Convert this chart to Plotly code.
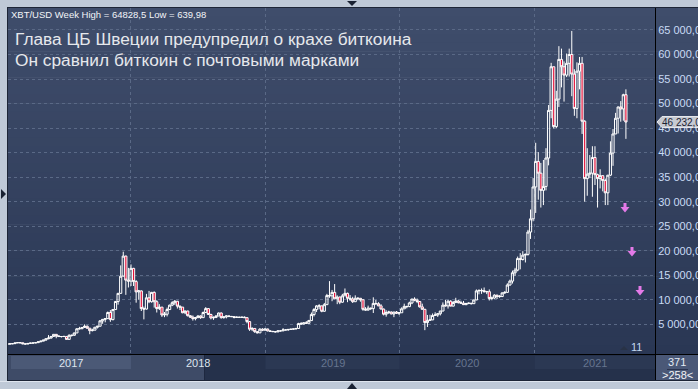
import plotly.graph_objects as go
import pandas as pd

# ---------------- data (weekly XBT/USD candles) ----------------
first_week = "2017-01-23"
week_open = [
    # 2017
    920, 915, 1010, 1000, 1050, 1190, 1270, 1230, 1020, 970, 1090, 1180, 1180, 1250,
    1420, 1560, 1770, 2050, 2190, 2520, 2950, 2600, 2500, 2500, 2520, 1920, 2750, 2750,
    3230, 4080, 4100, 4350, 4600, 4200, 3700, 3800, 4400, 4600, 5700, 6000, 6150, 7400,
    5950, 8000, 9650, 11300, 14800, 18900, 14000,
    # 2018
    13800, 16400, 13700, 11600, 11800, 8200, 8100, 10400, 9600, 11500, 9600, 8200, 8500,
    6900, 7050, 8000, 8900, 9400, 9700, 8700, 8500, 7350, 7700, 6750, 6450, 6150, 6350,
    6700, 6350, 7400, 8200, 7000, 6300, 6400, 6700, 7300, 6350, 6500, 6700, 6600, 6550,
    6400, 6450, 6400, 6450, 6350, 5550, 4000, 4150, 3500, 3250, 4000, 3800,
    # 2019
    4050, 3650, 3550, 3500, 3450, 3650, 3650, 3850, 3850, 3950, 4000, 4050, 4150, 5150,
    5050, 5300, 5200, 5750, 6980, 8000, 8750, 8750, 7650, 9000, 10850, 10800, 11500,
    10200, 10550, 9500, 10800, 11300, 10300, 10150, 9600, 10300, 10300, 10000, 8050,
    7900, 8300, 8200, 9250, 9200, 8750, 8100, 7050, 7400, 7500, 7100, 7500, 7250,
    # 2020
    7350, 8150, 8650, 8600, 9350, 10150, 9900, 9650, 8550, 8050, 5350, 5800, 5900, 6800,
    6900, 7150, 7700, 8900, 8750, 9700, 8700, 9450, 9750, 9400, 9300, 9000, 9250, 9300,
    9200, 9950, 11800, 11900, 11850, 11650, 11650, 10250, 10350, 10950, 10700, 10650,
    11400, 11500, 13000, 13800, 15500, 16050, 18400, 18200, 19100, 19250, 23800, 26500,
    # 2021
    33000, 38200, 35800, 32300, 33100, 38900, 48600, 57500, 45300, 50900, 59000, 57500,
    55800, 58200, 60000, 56000, 49000, 56600, 58200, 46400, 34700, 35600, 35800, 39000,
    35500, 34700, 35300, 34300, 31800, 35400, 39900, 43800, 47000, 49300, 48900, 51800,
]
week_high = [
    # 2017
    930, 1030, 1060, 1060, 1200, 1290, 1330, 1260, 1070, 1100, 1200, 1210, 1260, 1440,
    1640, 1820, 2150, 2800, 2600, 2990, 2980, 2770, 2600, 2650, 2530, 2950, 2850, 3300,
    4200, 4480, 4400, 4980, 4750, 4250, 4100, 4400, 4620, 5850, 6000, 6200, 7600, 7900,
    8000, 9750, 11400, 17000, 19800, 19000, 16500,
    # 2018
    17200, 16500, 14000, 12000, 11900, 8600, 11200, 11800, 11600, 11700, 9900, 9100, 8500,
    7500, 8400, 9000, 9700, 9950, 9750, 8800, 8500, 7800, 7750, 6850, 6800, 6500, 6800,
    6800, 7600, 8500, 8300, 7150, 6600, 6800, 7400, 7400, 6600, 6800, 6800, 6700, 6650,
    6600, 6550, 6500, 6600, 6400, 5600, 4400, 4200, 3600, 4200, 4200, 4100,
    # 2019
    4100, 3800, 3650, 3550, 3750, 3700, 4200, 3950, 3950, 4000, 4100, 4150, 5300, 5450,
    5400, 5650, 5900, 7400, 8300, 8900, 9100, 8800, 9350, 11200, 13800, 12000, 13200,
    10900, 10650, 11200, 12300, 11450, 10950, 10600, 10900, 10450, 10350, 10050, 8500,
    8800, 8400, 10500, 9950, 9500, 9100, 8200, 7850, 7750, 7600, 7500, 7700, 7500,
    # 2020
    8450, 9200, 8750, 9600, 10150, 10500, 10250, 9700, 9200, 8150, 6900, 6950, 7200, 7450,
    7300, 7750, 9450, 10000, 9950, 9900, 9750, 10400, 9950, 9800, 9750, 9350, 9450, 9350,
    10000, 12100, 12100, 12300, 12500, 11800, 12100, 10650, 11100, 10950, 10950, 11500,
    11750, 13350, 14100, 15950, 16500, 18800, 19500, 19900, 19400, 24250, 28400, 34800,
    # 2021
    42000, 40100, 37900, 38500, 40900, 49700, 58300, 57500, 52600, 61700, 61200, 58600,
    60200, 61200, 64800, 57000, 58400, 59500, 59500, 46600, 40900, 39500, 41300, 41300,
    35700, 36600, 35300, 34700, 35400, 42300, 44800, 48100, 49400, 50500, 52000, 52900,
]
week_low = [
    # 2017
    880, 910, 940, 990, 1040, 1180, 1100, 950, 890, 940, 1070, 1150, 1170, 1240,
    1410, 1550, 1690, 1950, 2100, 2500, 2150, 2480, 2300, 2450, 1900, 1900, 2480, 2650,
    3230, 3950, 3990, 4300, 4100, 2970, 3550, 3800, 4150, 4600, 5100, 5400, 6100, 5500,
    5800, 8000, 9000, 11300, 14800, 11000, 12500,
    # 2018
    12800, 12800, 9400, 10000, 7700, 6000, 8000, 9300, 9400, 8400, 7400, 7900, 6500,
    6450, 6600, 7900, 8700, 8950, 8200, 7900, 7250, 7050, 6600, 6280, 5750, 5800, 6300,
    6100, 6300, 7300, 6900, 6000, 5900, 6250, 6650, 6150, 6150, 6200, 6450, 6500, 6200,
    6350, 6350, 6300, 6300, 5200, 3650, 3600, 3250, 3150, 3250, 3600, 3700,
    # 2019
    3550, 3500, 3450, 3350, 3400, 3550, 3650, 3750, 3700, 3850, 3950, 3950, 4100, 4950,
    5000, 5150, 5150, 5700, 6600, 7500, 8050, 7450, 7550, 8950, 10400, 9700, 10200,
    9100, 9100, 9400, 10800, 9500, 9750, 9350, 9600, 9900, 9600, 7750, 7800,
    7800, 7900, 7300, 8950, 8700, 8050, 6800, 6550, 7100, 7050, 6450, 7100, 6900,
    # 2020
    7350, 8100, 8250, 8500, 9100, 9700, 9300, 8400, 8000, 3800, 4450, 5700, 5850, 6750,
    6500, 6800, 7650, 8650, 8200, 8800, 8650, 9300, 9250, 9200, 8950, 8900, 9100, 9050,
    9150, 9950, 11100, 11200, 11500, 11150, 9850, 9900, 10200, 10150, 10400, 10550,
    11200, 11450, 12900, 13300, 14850, 15800, 16200, 18000, 17600, 19000, 22400, 26000,
    # 2021
    27700, 30400, 28800, 29300, 32300, 37400, 47000, 44900, 45000, 49300, 53300, 50400,
    55400, 55500, 51500, 47500, 47000, 52900, 43800, 30000, 31200, 34800, 31000, 33400,
    28800, 32700, 32100, 29300, 29300, 35200, 37300, 43800, 43900, 46300, 46500, 42800,
]
week_close = [
    # 2017
    915, 1010, 1000, 1050, 1190, 1270, 1230, 1020, 970, 1090, 1180, 1180, 1250, 1420,
    1560, 1770, 2050, 2190, 2520, 2950, 2600, 2500, 2500, 2520, 1920, 2750, 2750, 3230,
    4080, 4100, 4350, 4600, 4200, 3700, 3800, 4400, 4600, 5700, 6000, 6150, 7400, 5950,
    8000, 9650, 11300, 14800, 18900, 14000, 13800,
    # 2018
    16400, 13700, 11600, 11800, 8200, 8100, 10400, 9600, 11500, 9600, 8200, 8500, 6900,
    7050, 8000, 8900, 9400, 9700, 8700, 8500, 7350, 7700, 6750, 6450, 6150, 6350, 6700,
    6350, 7400, 8200, 7000, 6300, 6400, 6700, 7300, 6350, 6500, 6700, 6600, 6550, 6400,
    6450, 6400, 6450, 6350, 5550, 4000, 4150, 3500, 3250, 4000, 3800, 4050,
    # 2019
    3650, 3550, 3500, 3450, 3650, 3650, 3850, 3850, 3950, 4000, 4050, 4150, 5150, 5050,
    5300, 5200, 5750, 6980, 8000, 8750, 8750, 7650, 9000, 10850, 10800, 11500, 10200,
    10550, 9500, 10800, 11300, 10300, 10150, 9600, 10300, 10300, 10000, 8050, 7900,
    8300, 8200, 9250, 9200, 8750, 8100, 7050, 7400, 7500, 7100, 7500, 7250, 7350,
    # 2020
    8150, 8650, 8600, 9350, 10150, 9900, 9650, 8550, 8050, 5350, 5800, 5900, 6800, 6900,
    7150, 7700, 8900, 8750, 9700, 8700, 9450, 9750, 9400, 9300, 9000, 9250, 9300, 9200,
    9950, 11800, 11900, 11850, 11650, 11650, 10250, 10350, 10950, 10700, 10650, 11400,
    11500, 13000, 13800, 15500, 16050, 18400, 18200, 19100, 19250, 23800, 26500, 33000,
    # 2021
    38200, 35800, 32300, 33100, 38900, 48600, 57500, 45300, 50900, 59000, 57500, 55800,
    58200, 60000, 56000, 49000, 56600, 58200, 46400, 34700, 35600, 35800, 39000, 35500,
    34700, 35300, 34300, 31800, 35400, 39900, 43800, 47000, 49300, 48900, 51800, 46232,
]
dates = pd.date_range(first_week, periods=len(week_close), freq="7D")

x_range = ["2017-02-01", "2021-11-24"]
y_range = [-1060, 69480]
year_labels = ["2017", "2018", "2019", "2020", "2021"]
year_starts = ["2018-01-01", "2019-01-01", "2020-01-01", "2021-01-01"]
price_ticks = [5000, 10000, 15000, 20000, 25000, 30000, 35000, 40000, 45000,
               50000, 55000, 60000, 65000]
price_tick_labels = ["5 000,00", "10 000,00", "15 000,00", "20 000,00", "25 000,00",
                     "30 000,00", "35 000,00", "40 000,00", "45 000,00", "50 000,00",
                     "55 000,00", "60 000,00", "65 000,00"]
header_text = "XBT/USD Week High = 64828,5 Low = 639,98"
title_lines = ["Глава ЦБ Швеции предупредил о крахе биткоина",
               "Он сравнил биткоин с почтовыми марками"]
bar_count_text = "371"
visible_count_text = ">258<"
signal_count_text = "11"

# ---------------- geometry helpers ----------------
W, H = 698, 389
ML, MR, MT, MB = 8, 43, 8, 35
PW, PH = W - ML - MR, H - MT - MB
FONT = "Liberation Sans, Arial, sans-serif"


def fx(px):
    return (px - ML) / PW


def fy(py):
    return (H - MB - py) / PH


t0, t1 = pd.Timestamp(x_range[0]), pd.Timestamp(x_range[1])


def date_px(d):
    return ML + (pd.Timestamp(d) - t0) / (t1 - t0) * PW


def val_py(v):
    return (H - MB) - (v - y_range[0]) / (y_range[1] - y_range[0]) * PH


def rect(x0, y0, x1, y1, color, layer="below", line=None):
    return dict(type="rect", xref="paper", yref="paper", x0=fx(x0), x1=fx(x1),
                y0=fy(y1), y1=fy(y0), fillcolor=color, layer=layer,
                line=dict(width=0) if line is None else line)


def hline(x0, x1, y, color, width=1, layer="above"):
    return dict(type="line", xref="paper", yref="paper", x0=fx(x0), x1=fx(x1),
                y0=fy(y), y1=fy(y), line=dict(color=color, width=width), layer=layer)


def vline(x, y0, y1, color, width=1, layer="above"):
    return dict(type="line", xref="paper", yref="paper", x0=fx(x), x1=fx(x),
                y0=fy(y0), y1=fy(y1), line=dict(color=color, width=width), layer=layer)


def poly(points, color, layer="above"):
    path = "M " + " L ".join(f"{fx(a)},{fy(b)}" for a, b in points) + " Z"
    return dict(type="path", xref="paper", yref="paper", path=path,
                fillcolor=color, line=dict(width=0), layer=layer)


def lerp_color(c0, c1, t):
    a = [int(c0[i:i + 2], 16) for i in (1, 3, 5)]
    b = [int(c1[i:i + 2], 16) for i in (1, 3, 5)]
    return "#" + "".join(f"{round(a[k] + (b[k] - a[k]) * t):02x}" for k in range(3))


shapes = []
# background gradient of the chart area (plot + right scale)
N = 40
top_c, bot_c = "#3f4d6b", "#2a3754"
for i in range(N):
    ya = MT + (H - MB - MT) * i / N
    yb = MT + (H - MB - MT) * (i + 1) / N + 0.6
    shapes.append(rect(ML, ya, W, yb, lerp_color(top_c, bot_c, i / (N - 1))))

# bottom band (time navigator)
band_top, band_mid, band_bot = 355, 369, 380
shapes.append(rect(ML, band_top, 655, band_bot, "#25314b"))
shapes.append(rect(ML, band_top, 204.5, band_bot, "#3e4b67"))
cells = [date_px(x_range[0]) + 3] + [date_px(d) for d in year_starts] + [655]
cell_colors = ["#4b5976", None, "#2b3853", "#27334d", "#2b3853"]
for i, c in enumerate(cell_colors):
    if c:
        shapes.append(rect(cells[i], band_top + 1, cells[i + 1], band_mid, c))
shapes.append(vline(204.5, band_top, band_bot, "#1e2840", 1, "below"))
# right bottom cell
shapes.append(rect(656, band_top, W, band_bot, "#4a5877"))
shapes.append(hline(667, 688, 369.5, "#2a3450", 1))

# frame
shapes.append(rect(0, 0, W, 7, "#bfc9d7", "above"))
shapes.append(rect(0, 0, 7, H, "#bfc9d7", "above"))
shapes.append(rect(0, 381, W, H, "#bfc9d7", "above"))
shapes.append(hline(7, W, 7.5, "#1d2536", 1))
shapes.append(vline(7.5, 7, 381, "#1d2536", 1))
shapes.append(hline(7, W, 380.5, "#1d2536", 1))
shapes.append(hline(0, W, 381.5, "#dfe5ee", 1))
shapes.append(poly([(347, 1), (357, 1), (352, 6)], "#1a2233"))
shapes.append(poly([(347, 389), (357, 389), (352, 383)], "#1a2233"))
shapes.append(poly([(1, 189), (1, 199), (6, 194)], "#1a2233"))

# black separators
shapes.append(hline(ML, W, 354.5, "#000000", 1))
shapes.append(vline(655.5, MT, band_bot, "#000000", 1))

# current price tag
last = week_close[-1]
py_last = val_py(last)
shapes.append(dict(
    type="path", xref="paper", yref="paper",
    path=(f"M {fx(657)},{fy(py_last)} L {fx(662)},{fy(py_last - 5.5)} "
          f"L {fx(W + 2)},{fy(py_last - 5.5)} L {fx(W + 2)},{fy(py_last + 5.5)} "
          f"L {fx(662)},{fy(py_last + 5.5)} Z"),
    fillcolor="#c6cad2", line=dict(color="#e8eaee", width=1), layer="above"))
# little marker triangle near signal count
shapes.append(poly([(620, 350), (628, 350), (624, 346)], "#283246"))

# pink signal arrows (shaft + head)
for ax_px, top_py in [(625, 203), (632, 247), (640, 286)]:
    shapes.append(poly([(ax_px - 1.5, top_py), (ax_px + 1.5, top_py),
                        (ax_px + 1.5, top_py + 4), (ax_px + 4.5, top_py + 4),
                        (ax_px, top_py + 9.5), (ax_px - 4.5, top_py + 4),
                        (ax_px - 1.5, top_py + 4)], "#e47ae8"))

price_text = f"{last:,.1f}".replace(",", " ").replace(".", ",")

annotations = [
    dict(x=fx(9), y=fy(15), xref="paper", yref="paper", text=header_text,
         showarrow=False, xanchor="left", yanchor="middle",
         font=dict(family=FONT, size=9.5, color="#f2f4f8")),
    dict(x=fx(13), y=fy(39), xref="paper", yref="paper", text=title_lines[0],
         showarrow=False, xanchor="left", yanchor="middle",
         font=dict(family=FONT, size=17.3, color="#e6e8ec")),
    dict(x=fx(13), y=fy(60), xref="paper", yref="paper", text=title_lines[1],
         showarrow=False, xanchor="left", yanchor="middle",
         font=dict(family=FONT, size=17.3, color="#e6e8ec")),
    dict(x=fx(661), y=fy(py_last), xref="paper", yref="paper", text=price_text,
         showarrow=False, xanchor="left", yanchor="middle", borderpad=0,
         font=dict(family=FONT, size=10, color="#1c2232")),
    dict(x=fx(636), y=fy(347), xref="paper", yref="paper", text=signal_count_text,
         showarrow=False, xanchor="center", yanchor="middle",
         font=dict(family=FONT, size=11, color="#c4d6f0")),
    dict(x=fx(677), y=fy(362), xref="paper", yref="paper", text=bar_count_text,
         showarrow=False, xanchor="center", yanchor="middle",
         font=dict(family=FONT, size=11, color="#e4eaf4")),
    dict(x=fx(677), y=fy(375), xref="paper", yref="paper", text=visible_count_text,
         showarrow=False, xanchor="center", yanchor="middle",
         font=dict(family=FONT, size=11, color="#f2f4f8")),
]
for i, lab in enumerate(year_labels):
    cx = (cells[i] + cells[i + 1]) / 2
    annotations.append(dict(
        x=fx(cx), y=fy(362.5), xref="paper", yref="paper", text=lab,
        showarrow=False, xanchor="center", yanchor="middle",
        font=dict(family=FONT, size=11, color="#dde4ee" if i < 2 else "#66758f")))

fig = go.Figure(go.Candlestick(
    x=dates, open=week_open, high=week_high, low=week_low, close=week_close,
    increasing=dict(line=dict(color="#ffffff", width=1), fillcolor="rgba(0,0,0,0)"),
    decreasing=dict(line=dict(color="#ffffff", width=1), fillcolor="#e3123a"),
    whiskerwidth=0, hoverinfo="skip", showlegend=False,
))

fig.update_layout(
    width=W, height=H,
    margin=dict(l=ML, r=MR, t=MT, b=MB, pad=0, autoexpand=False),
    paper_bgcolor="#bfc9d7", plot_bgcolor="rgba(0,0,0,0)",
    boxgap=0.15, boxgroupgap=0,
    showlegend=False,
    shapes=shapes, annotations=annotations,
    xaxis=dict(type="date", range=x_range, rangeslider=dict(visible=False),
               tickvals=year_starts, showticklabels=False, ticks="",
               showgrid=True, gridcolor="#5a6986", griddash="3px,3px", gridwidth=1,
               zeroline=False, showline=False, fixedrange=True, automargin=False),
    yaxis=dict(side="right", range=y_range, tickvals=price_ticks,
               ticktext=price_tick_labels, ticks="",
               tickfont=dict(family=FONT, size=11, color="#c9dbf5"),
               showgrid=True, gridcolor="#5a6986", griddash="3px,3px", gridwidth=1,
               zeroline=False, showline=True, linecolor="#000000", linewidth=1,
               fixedrange=True, automargin=False),
)

fig.write_html("out.html")
